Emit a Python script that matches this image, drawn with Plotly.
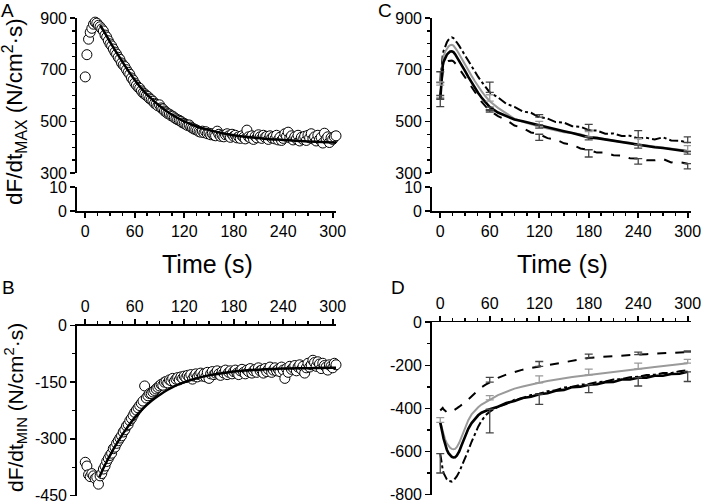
import plotly.graph_objects as go

W, H = 701, 503
FONT = "Liberation Sans, Arial, Helvetica, sans-serif"

# ---------------- data ----------------
# Panel A: dF/dt max, single contraction series (every 2 s)
A_TIME = list(range(0, 305, 2))
A_DFDT_MAX = [
    672, 758, 818, 845, 860, 876, 884, 880, 872, 866,
    858, 850, 834, 826, 812, 800, 792, 780, 768, 760,
    748, 740, 726, 718, 712, 700, 690, 682, 668, 660,
    648, 640, 632, 628, 618, 610, 606, 600, 596, 588,
    584, 578, 570, 566, 560, 564, 552, 548, 540, 536,
    530, 528, 522, 520, 514, 510, 506, 504, 500, 494,
    492, 488, 484, 486, 478, 474, 470, 468, 464, 460,
    458, 462, 456, 460, 452, 454, 448, 452, 446, 444,
    462, 450, 442, 446, 440, 448, 452, 444, 438, 450,
    442, 446, 436, 440, 434, 444, 438, 432, 466, 440,
    436, 444, 430, 442, 436, 448, 440, 434, 446, 438,
    442, 430, 444, 436, 440, 432, 446, 428, 438, 426,
    434, 452, 442, 458, 436, 444, 428, 440, 432, 446,
    424, 438, 430, 442, 426, 446, 436, 452, 432, 440,
    424, 446, 430, 438, 416, 454, 432, 440, 418, 436,
    430, 440, 444,
]
A_FIT_TIME = [18, 25, 30, 40, 50, 60, 70, 80, 90, 100, 110, 120, 135, 150, 165,
              180, 200, 220, 240, 260, 280, 300, 305]
A_FIT = [872, 836, 808, 756, 706, 660, 620, 588, 560, 536, 516, 500, 480, 466, 455,
         446, 438, 432, 428, 424, 421, 418, 417]

# Panel B: dF/dt min
B_TIME = list(range(0, 305, 2))
B_DFDT_MIN = [
    -362, -372, -395, -400, -392, -398, -405, -402, -420, -398,
    -392, -380, -372, -360, -352, -344, -338, -326, -322, -312,
    -305, -298, -292, -282, -276, -266, -262, -252, -246, -238,
    -230, -224, -218, -212, -206, -200, -160, -192, -186, -180,
    -180, -176, -172, -168, -164, -160, -156, -158, -150, -148,
    -152, -144, -146, -140, -148, -142, -138, -144, -136, -140,
    -134, -138, -132, -136, -130, -142, -134, -128, -136, -130,
    -126, -134, -128, -136, -124, -140, -128, -122, -130, -126,
    -120, -128, -132, -122, -126, -118, -130, -124, -120, -128,
    -122, -118, -126, -130, -120, -116, -124, -128, -118, -122,
    -114, -126, -120, -116, -124, -112, -120, -118, -126, -114,
    -122, -116, -110, -124, -118, -112, -120, -116, -122, -110,
    -118, -140, -114, -124, -108, -116, -112, -106, -120, -110,
    -104, -116, -108, -126, -112, -100, -110, -104, -92, -98,
    -108, -96, -102, -114, -100, -106, -110, -118, -104, -108,
    -112, -100, -104,
]
B_FIT_TIME = [17, 22, 26, 30, 35, 40, 45, 50, 55, 60, 70, 80, 90, 100, 115, 130,
              150, 170, 190, 210, 240, 270, 300, 305]
B_FIT = [-402, -378, -360, -344, -324, -306, -289, -273, -258, -244, -220, -200,
         -184, -170, -154, -143, -132, -125, -120, -117, -114, -113, -112, -112]

# Panels C & D: group means
T = [0, 1, 2, 3, 4, 6, 8, 10, 12, 14, 16, 18, 20, 23, 26, 30, 34, 38, 42, 46, 50, 55,
     60, 70, 80, 90, 100, 110, 120, 130, 140, 150, 160, 170, 180, 190, 200, 210,
     220, 230, 240, 250, 260, 270, 280, 290, 300]

C_BLACK = [585, 640, 690, 715, 730, 748, 758, 765, 770, 771, 768, 760, 750, 735, 718,
           695, 672, 650, 630, 610, 592, 572,
           555, 534, 519, 507, 500, 492, 486, 478, 470, 462, 455, 447, 438, 435, 430,
           424, 419, 415, 408, 405, 400, 397, 393, 389, 383]
C_GRAY = [640, 670, 710, 735, 752, 770, 782, 790, 795, 796, 793, 786, 776, 760, 742,
          720, 698, 676, 655, 635, 617, 596,
          578, 552, 530, 510, 498, 488, 480, 472, 465, 458, 455, 450, 440, 437, 431,
          425, 420, 417, 408, 406, 402, 400, 394, 391, 386]
C_DOTTED = [650, 690, 730, 755, 772, 792, 806, 816, 822, 825, 822, 815, 806, 792, 776,
            755, 734, 712, 692, 672, 654, 634,
            612, 593, 568, 556, 538, 533, 516, 511, 497, 495, 481, 479, 466, 464, 452,
            453, 443, 444, 434, 436, 430, 438, 426, 425, 418]
C_DASHED = [600, 640, 675, 695, 708, 722, 730, 734, 736, 735, 732, 726, 718, 704, 690,
            670, 650, 630, 610, 592, 576, 558,
            542, 520, 505, 484, 474, 457, 450, 435, 430, 415, 410, 395, 390, 379, 379,
            369, 368, 357, 356, 349, 349, 354, 341, 342, 336]

D_BLACK = [-465, -480, -500, -520, -540, -570, -592, -608, -618, -625, -628, -627,
           -620, -600, -570, -530, -495, -468, -448, -432, -420, -412,
           -404, -392, -375, -366, -352, -346, -334, -330, -318, -314, -301, -299,
           -290, -288, -278, -277, -266, -266, -257, -257, -248, -248, -240, -239, -230]
D_GRAY = [-465, -475, -490, -505, -520, -545, -562, -575, -583, -588, -590, -588,
          -580, -560, -530, -490, -455, -428, -410, -395, -382, -370,
          -360, -338, -322, -308, -298, -288, -281, -273, -266, -260, -254, -249,
          -244, -239, -234, -229, -225, -221, -216, -212, -208, -204, -199, -195, -190]
D_DASHED = [-410, -405, -400, -398, -404, -412, -418, -420, -418, -414, -410, -406,
            -400, -392, -384, -372, -358, -344, -330, -316, -302, -290,
            -278, -258, -243, -230, -220, -212, -205, -199, -192, -186, -179, -172,
            -166, -162, -159, -156, -154, -152, -150, -148, -146, -146, -143, -141, -138]
D_DOTTED = [-610, -640, -665, -685, -700, -718, -730, -737, -740, -740, -736, -728,
            -716, -695, -670, -635, -595, -555, -518, -485, -458, -432,
            -415, -392, -380, -360, -352, -338, -332, -320, -316, -303, -300, -290,
            -287, -278, -275, -266, -264, -255, -253, -245, -244, -236, -236, -227, -222]

ERR_TIME = [0, 60, 120, 180, 240, 300]
C_DOTTED_PLUS = [42, 40, 10, 22, 30, 22]
C_GRAY_PLUS = [13, 25, 20, 20, 25, 20]
C_BLACK_MINUS = [28, 10, 12, 10, 12, 10]
C_DASHED_MINUS = [10, 6, 24, 28, 22, 20]
D_DASHED_PLUS = [None, 22, 23, 18, 11, 5]
D_GRAY_PLUS = [22, 19, 32, 26, 26, 18]
D_BLACK_MINUS = [None, 110, 47, 37, 39, 45]
D_DOTTED_MINUS = [90, None, None, None, None, None]

X_TICKS = [0, 60, 120, 180, 240, 300]

for arr in (C_BLACK, C_GRAY, C_DOTTED, C_DASHED, D_BLACK, D_GRAY, D_DASHED, D_DOTTED):
    assert len(arr) == len(T), len(arr)
assert len(A_DFDT_MAX) == len(A_TIME) and len(B_DFDT_MIN) == len(B_TIME)

# ---------------- geometry helpers ----------------
def fx(p):
    return p / W

def fy(p):
    return 1 - p / H

AX_LEFT = [fx(77), fx(336)]
CX_RIGHT = [fx(432), fx(691)]

fig = go.Figure()

# ---------------- Panel A ----------------
fig.add_trace(go.Scatter(x=A_TIME, y=A_DFDT_MAX, mode="markers", xaxis="x", yaxis="y",
                         marker=dict(symbol="circle", size=10, color="white",
                                     line=dict(color="black", width=1)),
                         cliponaxis=False, hoverinfo="skip"))
fig.add_trace(go.Scatter(x=A_FIT_TIME, y=A_FIT, mode="lines", xaxis="x", yaxis="y",
                         line=dict(color="black", width=2.5, shape="spline"),
                         hoverinfo="skip"))
fig.add_trace(go.Scatter(x=[None], y=[None], xaxis="x", yaxis="y2", hoverinfo="skip"))

# ---------------- Panel B ----------------
fig.add_trace(go.Scatter(x=B_TIME, y=B_DFDT_MIN, mode="markers", xaxis="x5", yaxis="y5",
                         marker=dict(symbol="circle", size=10, color="white",
                                     line=dict(color="black", width=1)),
                         cliponaxis=False, hoverinfo="skip"))
fig.add_trace(go.Scatter(x=B_FIT_TIME, y=B_FIT, mode="lines", xaxis="x5", yaxis="y5",
                         line=dict(color="black", width=2.5, shape="spline"),
                         hoverinfo="skip"))

# ---------------- Panels C & D ----------------
def add_group(xa, ya, series, errs):
    for vals, color, width, dash in series:
        fig.add_trace(go.Scatter(x=T, y=vals, mode="lines", xaxis=xa, yaxis=ya,
                                 line=dict(color=color, width=width, dash=dash),
                                 cliponaxis=False, hoverinfo="skip"))
    for vals, e, direction, color in errs:
        xs, ys, ev = [], [], []
        for t, v in zip(ERR_TIME, e):
            if v is None:
                continue
            xs.append(t)
            ys.append(vals[T.index(t)])
            ev.append(v)
        zeros = [0] * len(ev)
        fig.add_trace(go.Scatter(
            x=xs, y=ys, mode="markers", xaxis=xa, yaxis=ya,
            marker=dict(size=1, color="rgba(0,0,0,0)"),
            error_y=dict(type="data", symmetric=False,
                         array=ev if direction == "up" else zeros,
                         arrayminus=ev if direction == "down" else zeros,
                         color=color, thickness=1.3, width=4),
            cliponaxis=False, hoverinfo="skip"))

add_group("x3", "y3",
          [(C_DASHED, "black", 2, "dash"), (C_DOTTED, "black", 2, "dashdot"),
           (C_GRAY, "#9a9a9a", 2, "solid"), (C_BLACK, "black", 2.6, "solid")],
          [(C_DOTTED, C_DOTTED_PLUS, "up", "#444444"),
           (C_GRAY, C_GRAY_PLUS, "up", "#9a9a9a"),
           (C_BLACK, C_BLACK_MINUS, "down", "#444444"),
           (C_DASHED, C_DASHED_MINUS, "down", "#444444")])
fig.add_trace(go.Scatter(x=[None], y=[None], xaxis="x3", yaxis="y4", hoverinfo="skip"))

add_group("x6", "y6",
          [(D_DASHED, "black", 2, "dash"), (D_DOTTED, "black", 2, "dashdot"),
           (D_GRAY, "#9a9a9a", 2, "solid"), (D_BLACK, "black", 2.6, "solid")],
          [(D_DASHED, D_DASHED_PLUS, "up", "#444444"),
           (D_GRAY, D_GRAY_PLUS, "up", "#9a9a9a"),
           (D_BLACK, D_BLACK_MINUS, "down", "#444444"),
           (D_DOTTED, D_DOTTED_MINUS, "down", "#444444")])

# ---------------- axes ----------------
TICKFONT = dict(family=FONT, size=16, color="black")
LINE = dict(showline=True, linecolor="black", linewidth=1.8, ticks="outside",
            ticklen=5, tickwidth=1.6, tickcolor="black", showgrid=False,
            zeroline=False, fixedrange=True, tickfont=TICKFONT, automargin=False,
            ticklabeloverflow="allow")

def xax(domain, anchor, side):
    d = dict(LINE)
    d.update(domain=domain, anchor=anchor, side=side, range=[-10, 304],
             tickvals=X_TICKS, ticktext=[str(v) for v in X_TICKS],
             minor=dict(ticks="outside", ticklen=3, tickwidth=1.3, tickcolor="black",
                        tickmode="linear", tick0=0, dtick=15, showgrid=False))
    return d

def yax(domain, anchor, rng, vals, minor_dtick=None):
    d = dict(LINE)
    d.update(domain=domain, anchor=anchor, range=rng, tickvals=vals,
             ticktext=[str(v) for v in vals])
    if minor_dtick:
        d["minor"] = dict(ticks="outside", ticklen=3, tickwidth=1.3, tickcolor="black",
                          tickmode="linear", tick0=0, dtick=minor_dtick, showgrid=False)
    return d

fig.update_layout(
    xaxis=xax(AX_LEFT, "y2", "bottom"),
    yaxis=yax([fy(173), fy(18)], "x", [300, 900], [300, 500, 700, 900], 50),
    yaxis2=yax([fy(211), fy(187)], "x", [0, 10], [0, 10]),
    xaxis3=xax(CX_RIGHT, "y4", "bottom"),
    yaxis3=yax([fy(173), fy(18)], "x3", [300, 900], [300, 500, 700, 900], 50),
    yaxis4=yax([fy(211), fy(187)], "x3", [0, 10], [0, 10]),
    xaxis5=xax(AX_LEFT, "y5", "top"),
    yaxis5=yax([fy(495.5), fy(325.5)], "x5", [-450, 0], [-450, -300, -150, 0], 75),
    xaxis6=xax(CX_RIGHT, "y6", "top"),
    yaxis6=yax([fy(494.5), fy(322.3)], "x6", [-800, 0], [-800, -600, -400, -200, 0], 100),
)

# ---------------- text ----------------
def ann(text, x, y, size, angle=0):
    return dict(text=text, x=fx(x), y=fy(y), xref="paper", yref="paper",
                xanchor="center", yanchor="middle", showarrow=False, textangle=angle,
                font=dict(family=FONT, size=size, color="black"))

fig.update_layout(annotations=[
    ann("A", 7, 10, 19), ann("C", 385, 10, 19), ann("B", 8, 287, 19), ann("D", 398, 287, 19),
    ann("Time (s)", 207, 264, 25), ann("Time (s)", 562, 264, 25),
    ann("dF/dt<sub>MAX</sub> (N/cm<sup>2</sup>\u00b7s)", 15, 112, 22.5, -90),
    ann("dF/dt<sub>MIN</sub> (N/cm<sup>2</sup>\u00b7s)", 15, 408, 21, -90),
])

fig.update_layout(template="none", width=W, height=H, margin=dict(l=0, r=0, t=0, b=0, pad=0),
                  paper_bgcolor="white", plot_bgcolor="white", showlegend=False,
                  font=dict(family=FONT, color="black"))

fig.write_html("out.html", config=dict(displayModeBar=False, staticPlot=True),
               post_script="document.body.style.margin='0';document.body.style.overflow='hidden';")
